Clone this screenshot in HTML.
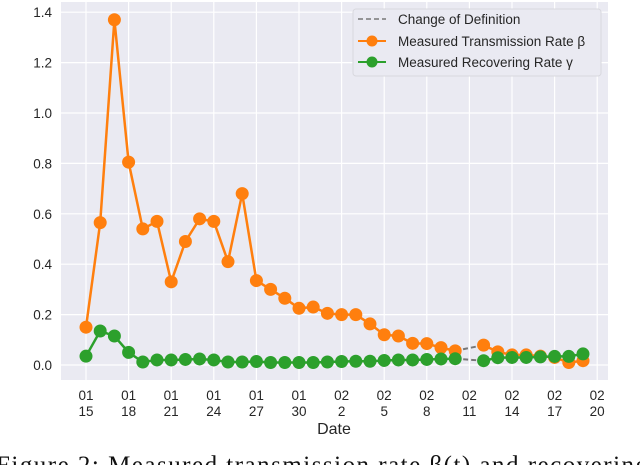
<!DOCTYPE html>
<html><head><meta charset="utf-8"><style>
html,body{margin:0;padding:0;background:#fff;width:640px;height:465px;overflow:hidden}
svg{display:block;font-family:"Liberation Sans",sans-serif}
</style></head><body>
<svg id="chart" width="640" height="465" viewBox="0 0 640 465"></svg>
<script>
const days = [0,1,2,3,4,5,6,7,8,9,10,11,12,13,14,15,16,17,18,19,20,21,22,23,24,25,26,28,29,30,31,32,33,34,35];
const beta = [0.15,0.565,1.37,0.805,0.54,0.57,0.33,0.49,0.58,0.57,0.41,0.68,0.335,0.30,0.265,0.225,0.23,0.205,0.20,0.20,0.163,0.12,0.115,0.086,0.085,0.069,0.056,0.079,0.052,0.04,0.04,0.035,0.03,0.01,0.017];
const gamma = [0.035,0.135,0.115,0.05,0.012,0.02,0.02,0.022,0.024,0.02,0.012,0.012,0.014,0.01,0.01,0.01,0.01,0.012,0.014,0.015,0.015,0.018,0.02,0.02,0.022,0.024,0.025,0.017,0.029,0.03,0.03,0.032,0.034,0.034,0.044];
const xTickDays = [0,3,6,9,12,15,18,21,24,27,30,33,36];
const xTickTop = ["01","01","01","01","01","01","02","02","02","02","02","02","02"];
const xTickBot = ["15","18","21","24","27","30","2","5","8","11","14","17","20"];
const yTicks = [0,0.2,0.4,0.6,0.8,1.0,1.2,1.4];
const breakIndex = 26; // last index before definition change

const NS="http://www.w3.org/2000/svg";
const svg=document.getElementById('chart');
const L=61,R=608,T=2,B=380;
const xs=d=>86+d*14.2;
const ys=v=>365-v*252;
function el(tag,attrs,parent){const e=document.createElementNS(NS,tag);for(const k in attrs)e.setAttribute(k,attrs[k]);(parent||svg).appendChild(e);return e;}

const bg=el('rect',{x:L,y:T,width:R-L,height:B-T,fill:'#eaeaf2'});



xTickDays.forEach((d,i)=>{
  const g=el('line',{x1:xs(d),x2:xs(d),y1:T,y2:B,stroke:'#fff','stroke-width':1.2});
  
  
  const t=el('text',{x:xs(d),y:400,'font-size':13.5,fill:'#262626','text-anchor':'middle'});
  t.textContent=xTickTop[i];
  
  
  const t2=el('text',{x:xs(d),y:416,'font-size':13.5,fill:'#262626','text-anchor':'middle'});
  t2.textContent=xTickBot[i];
  
  
});
yTicks.forEach(v=>{
  const g=el('line',{x1:L,x2:R,y1:ys(v),y2:ys(v),stroke:'#fff','stroke-width':1.2});
  
  
  const t=el('text',{x:52,y:ys(v)+5,'font-size':13.5,fill:'#262626','text-anchor':'end'});
  t.textContent=v.toFixed(1);
  
  
});
const xt=el('text',{x:334,y:434,'font-size':16,fill:'#262626','text-anchor':'middle'});
xt.textContent='Date';



function series(vals,color,name){
  const seg=(a,b)=>vals.slice(a,b).map((v,i)=>xs(days[a+i])+','+ys(v)).join(' ');
  const p1=el('polyline',{points:seg(0,breakIndex+1),fill:'none',stroke:color,'stroke-width':2.5});
  
  
  const dash=el('line',{x1:xs(days[breakIndex]),y1:ys(vals[breakIndex]),x2:xs(days[breakIndex+1]),y2:ys(vals[breakIndex+1]),stroke:'#777','stroke-width':2,'stroke-dasharray':'5,3'});
  
  
  const p2=el('polyline',{points:seg(breakIndex+1,vals.length),fill:'none',stroke:color,'stroke-width':2.5});
  
  
  vals.forEach((v,i)=>{
    const c=el('circle',{cx:xs(days[i]),cy:ys(v),r:6.5,fill:color});
    
    
  });
}
series(beta,'#ff7f0e','beta');
series(gamma,'#2ca02c','gamma');

const lg=el('g',{});


el('rect',{x:353,y:9,width:248,height:67,rx:3,fill:'#eaeaf2',stroke:'#d8d8de','stroke-width':1},lg);
el('line',{x1:358,x2:386,y1:19,y2:19,stroke:'#777','stroke-width':1.5,'stroke-dasharray':'5,3'},lg);
el('line',{x1:358,x2:386,y1:41,y2:41,stroke:'#ff7f0e','stroke-width':2},lg);
el('circle',{cx:372,cy:41,r:5.5,fill:'#ff7f0e'},lg);
el('line',{x1:358,x2:386,y1:62,y2:62,stroke:'#2ca02c','stroke-width':2},lg);
el('circle',{cx:372,cy:62,r:5.5,fill:'#2ca02c'},lg);
[['Change of Definition',24],['Measured Transmission Rate β',46],['Measured Recovering Rate γ',67]].forEach(([s,y])=>{
  const t=el('text',{x:398,y:y,'font-size':13.5,fill:'#262626'},lg);
  t.textContent=s;
  
  
});

const cap=el('text',{x:-4,y:473,'font-size':25,fill:'#111','font-family':'Liberation Serif, serif',textLength:652,lengthAdjust:'spacing'});
cap.textContent='Figure 2: Measured transmission rate β(t) and recovering';


</script>
</body></html>
